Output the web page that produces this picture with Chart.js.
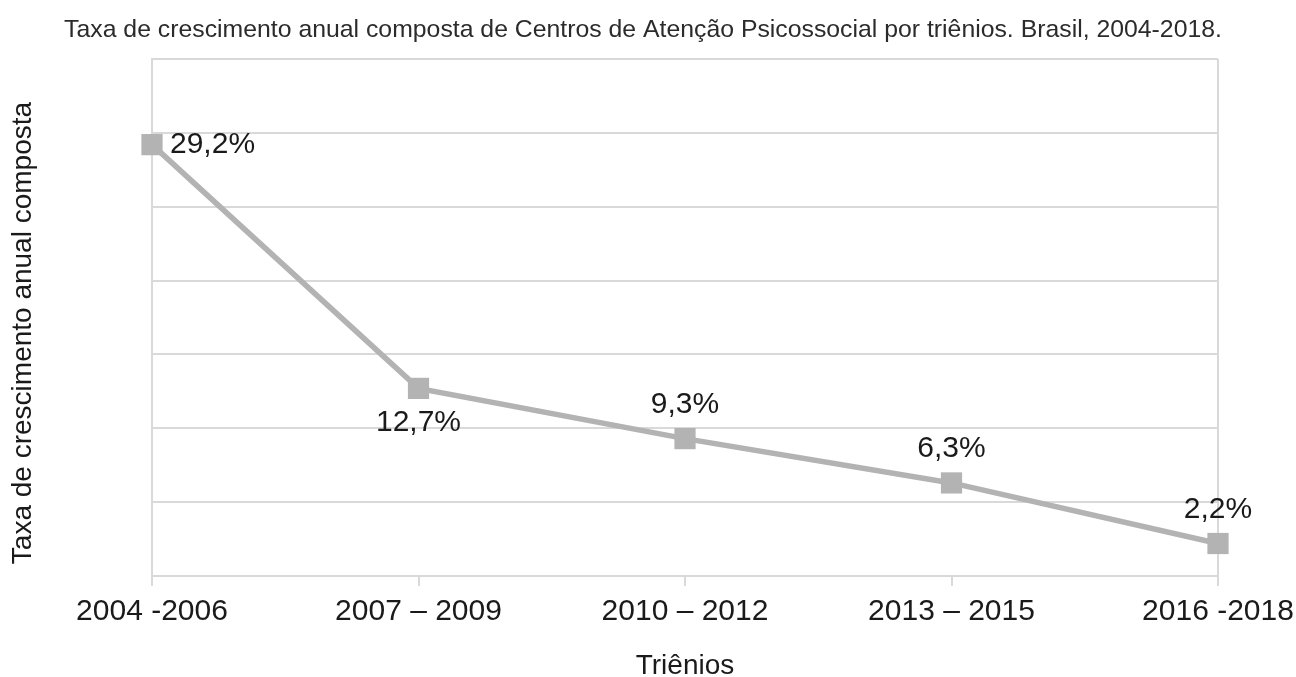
<!DOCTYPE html>
<html lang="pt-BR">
<head>
  <meta charset="UTF-8" />
  <title>CAPS - taxa de crescimento</title>
  <script src="https://cdn.jsdelivr.net/npm/chart.js"></script>
  <style>
    body {
      margin: 0;
      background: #ffffff;
    }
    .wrap {
      width: 1296px;
      height: 677px;
    }
  </style>
</head>
<body>
  <div class="wrap">
    <canvas id="capsChart"></canvas>
  </div>

  <script>
    // dados
    const trienios = ['2004 -2006', '2007 – 2009', '2010 – 2012', '2013 – 2015', '2016 -2018'];
    const taxas = [29.2, 12.7, 9.3, 6.3, 2.2];
    const rotulos = ['29,2%', '12,7%', '9,3%', '6,3%', '2,2%'];

    const fonte = "'Liberation Sans', Arial, sans-serif";
    const cinzaGrade = '#d9d9d9';

    // desenha os rótulos de valor junto a cada ponto
    const rotulosPlugin = {
      id: 'rotulos',
      afterDatasetsDraw(chart, args, opts) {
        const ctx = chart.ctx;
        const meta = chart.getDatasetMeta(0);
        ctx.save();
        ctx.font = '30px ' + fonte;
        ctx.fillStyle = '#1a1a1a';
        ctx.textBaseline = 'middle';
        meta.data.forEach((pt, i) => {
          const pos = opts.posicoes[i];
          if (pos === 'right') {
            ctx.textAlign = 'left';
            ctx.fillText(rotulos[i], pt.x + 18, pt.y);
          } else if (pos === 'below') {
            ctx.textAlign = 'center';
            ctx.fillText(rotulos[i], pt.x, pt.y + 34);
          } else {
            ctx.textAlign = 'center';
            ctx.fillText(rotulos[i], pt.x, pt.y - 34);
          }
        });
        ctx.restore();
      }
    };

    new Chart(document.getElementById('capsChart'), {
      type: 'line',
      data: {
        labels: trienios,
        datasets: [{
          data: taxas,
          borderColor: '#b3b3b3',
          backgroundColor: '#b3b3b3',
          borderWidth: 5.5,
          tension: 0,
          pointStyle: 'rect',
          pointRadius: 15,
          pointHoverRadius: 15,
          pointBorderWidth: 0
        }]
      },
      options: {
        responsive: true,
        maintainAspectRatio: false,
        animation: false,
        layout: {
          padding: { left: 4, right: 14, top: 0, bottom: 0 }
        },
        plugins: {
          legend: { display: false },
          tooltip: { enabled: false },
          title: {
            display: true,
            text: 'Taxa de crescimento anual composta de Centros de Atenção Psicossocial por triênios. Brasil, 2004-2018.',
            color: '#2b2b2b',
            font: { family: fonte, size: 24.8, weight: 'normal', lineHeight: 1.2 },
            padding: { top: 15.5, bottom: 13.7 }
          },
          rotulos: {
            posicoes: ['right', 'below', 'above', 'above', 'above']
          }
        },
        scales: {
          x: {
            offset: false,
            afterFit(scale) {
              scale.paddingRight = 78;
              scale.height = 101;
            },
            grid: {
              drawOnChartArea: true,
              color: c => (c.index === 0 || c.index === trienios.length - 1) ? cinzaGrade : 'rgba(0,0,0,0)',
              tickColor: cinzaGrade,
              tickLength: 10,
              lineWidth: 2
            },
            border: { color: cinzaGrade, width: 2 },
            ticks: {
              color: '#1a1a1a',
              font: { family: fonte, size: 30 },
              padding: 8,
              maxRotation: 0,
              autoSkip: false
            },
            title: {
              display: true,
              text: 'Triênios',
              color: '#1a1a1a',
              font: { family: fonte, size: 28, lineHeight: 1 },
              padding: { top: 0, bottom: -3 }
            }
          },
          y: {
            min: 0,
            max: 35,
            afterFit(scale) {
              scale.width = 148;
            },
            grid: {
              color: cinzaGrade,
              lineWidth: 2,
              drawTicks: false
            },
            border: { color: cinzaGrade, width: 2 },
            ticks: {
              stepSize: 5,
              display: false
            },
            title: {
              display: true,
              text: 'Taxa de crescimento anual composta    ',
              color: '#1a1a1a',
              font: { family: fonte, size: 28 },
              padding: { top: 2, bottom: 4 }
            }
          }
        }
      },
      plugins: [rotulosPlugin]
    });
  </script>
</body>
</html>
